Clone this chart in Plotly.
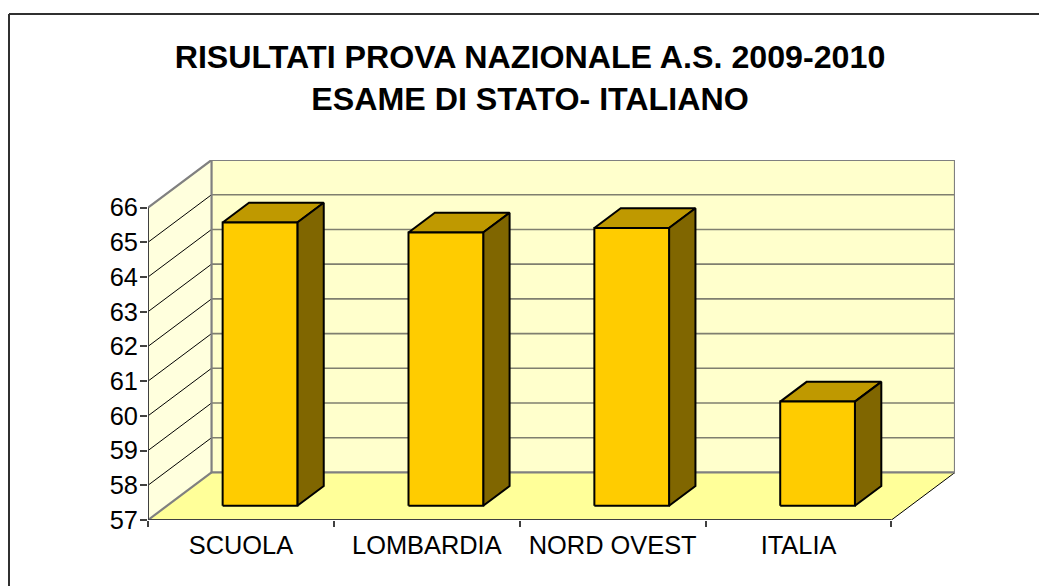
import plotly.graph_objects as go

# Data
categories = ["SCUOLA", "LOMBARDIA", "NORD OVEST", "ITALIA"]
values = [65.16, 64.87, 65.0, 60.0]
y_ticks = [57, 58, 59, 60, 61, 62, 63, 64, 65, 66]
title_lines = ["RISULTATI PROVA NAZIONALE A.S. 2009-2010", "ESAME DI STATO- ITALIANO"]

# Oblique projection of the chart's depth, in axis units
DX, DY = 0.342, 1.37
BAR_W = 0.402
D0, D1 = 0.30, 0.715
FONT = "Liberation Sans, Arial, sans-serif"
W, H = 1039, 586
L, R, T, B = 148, 84, 160, 66

YMIN, YMAX = y_ticks[0], y_ticks[-1]
NCAT = len(categories)

fig = go.Figure()


def poly(xs, ys, fill=None, color=None, width=1):
    fig.add_trace(go.Scatter(
        x=xs, y=ys, mode="lines", fill="toself" if fill else "none",
        fillcolor=fill, line=dict(color=color or "rgba(0,0,0,0)", width=width),
        hoverinfo="skip", showlegend=False, cliponaxis=False))


GRAY = "#808080"
# back wall, side wall, floor
poly([DX, NCAT + DX, NCAT + DX, DX, DX],
     [YMIN + DY, YMIN + DY, YMAX + DY, YMAX + DY, YMIN + DY], "#FFFFCC")
poly([0, DX, DX, 0, 0], [YMIN, YMIN + DY, YMAX + DY, YMAX, YMIN], "#FFFFDD")
poly([0, NCAT, NCAT + DX, DX, 0], [YMIN, YMIN, YMIN + DY, YMIN + DY, YMIN], "#FFFF99")

# gridlines
for v in y_ticks[1:]:
    poly([DX, NCAT + DX], [v + DY, v + DY], color="#7F7F6F", width=1.6)
    if v < YMAX:
        poly([0, DX], [v, v + DY], color="#000000", width=1)
poly([NCAT, NCAT + DX], [YMIN, YMIN + DY], color="#000000", width=1)

# wall outlines
poly([0, DX, NCAT + DX, NCAT + DX], [YMAX, YMAX + DY, YMAX + DY, YMIN + DY], color=GRAY, width=2.2)
poly([DX, DX, NCAT + DX], [YMAX + DY, YMIN + DY, YMIN + DY], color=GRAY, width=2.2)
poly([0, DX], [YMIN, YMIN + DY], color=GRAY, width=2.2)

# axis lines
poly([0, 0], [YMIN, YMAX], color="#404040", width=2)
poly([0, NCAT], [YMIN, YMIN], color="#404040", width=2)

# bars
for i, v in enumerate(values):
    x0 = i + 0.5 - BAR_W / 2 + D0 * DX
    x1 = x0 + BAR_W
    y0 = YMIN + D0 * DY
    y1 = v + D0 * DY
    ox = (D1 - D0) * DX
    oy = (D1 - D0) * DY
    poly([x0, x1, x1 + ox, x0 + ox, x0], [y1, y1, y1 + oy, y1 + oy, y1], "#BF9900", "#000000", 2)
    poly([x1, x1 + ox, x1 + ox, x1, x1], [y0, y0 + oy, y1 + oy, y1, y0], "#806600", "#000000", 2)
    poly([x0, x1, x1, x0, x0], [y0, y0, y1, y1, y0], "#FFCC00", "#000000", 2)

plot_w = W - L - R
plot_h = H - T - B
px = lambda p: (p - L) / plot_w
py = lambda p: (H - B - p) / plot_h

fig.update_layout(
    width=W, height=H,
    margin=dict(l=L, r=R, t=T, b=B, pad=0, autoexpand=False),
    paper_bgcolor="#FFFFFF", plot_bgcolor="rgba(0,0,0,0)",
    font=dict(family=FONT, color="#000000"),
    showlegend=False,
    title=dict(
        text="<b>" + "<br>".join(title_lines) + "</b>",
        x=530 / W, xanchor="center", y=1 - 68 / H, yanchor="top",
        font=dict(size=32.2, family=FONT, color="#000000")),
    xaxis=dict(
        range=[0, NCAT + DX], tickmode="array",
        tickvals=[i + 0.5 for i in range(NCAT)], ticktext=categories,
        showgrid=False, zeroline=False, showline=False, ticks="",
        tickfont=dict(size=25.4, family=FONT, color="#000000"),
        ticklabelstandoff=8,
        minor=dict(tickmode="array", tickvals=list(range(NCAT + 1)), ticks="outside",
                   ticklen=6, tickwidth=1.5, tickcolor="#404040", showgrid=False)),
    yaxis=dict(
        range=[YMIN, YMAX + DY], tickmode="array", tickvals=y_ticks,
        ticktext=[str(v) for v in y_ticks],
        showgrid=False, zeroline=False, showline=False, ticks="outside",
        ticklen=7, tickwidth=1.5, tickcolor="#404040", ticklabelstandoff=-3,
        tickfont=dict(size=25.4, family=FONT, color="#000000")),
    shapes=[
        dict(type="line", xref="paper", yref="paper", x0=px(9), x1=px(W), y0=py(14), y1=py(14),
             line=dict(color="#303030", width=2)),
        dict(type="line", xref="paper", yref="paper", x0=px(9), x1=px(9), y0=py(14), y1=py(H),
             line=dict(color="#303030", width=2)),
    ],
)

fig.write_html("out.html", config=dict(displayModeBar=False),
               post_script="document.body.style.margin='0';document.body.style.overflow='hidden';")
